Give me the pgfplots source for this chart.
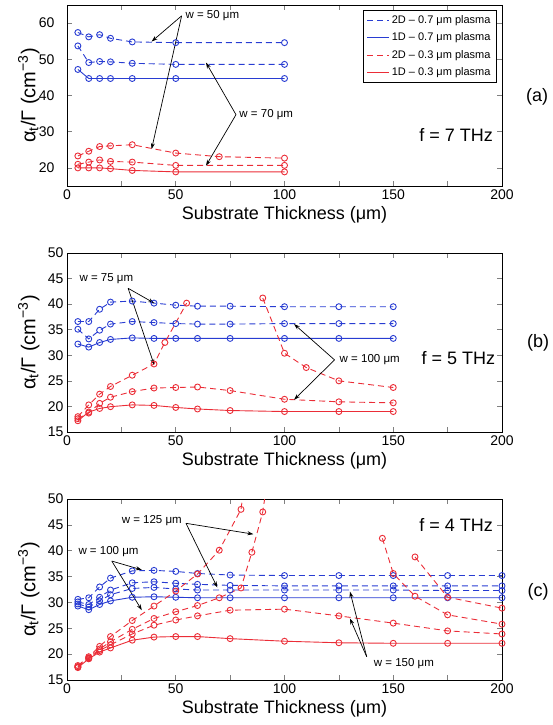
\documentclass[border=0pt]{standalone}
\usepackage{fontspec}
\setmainfont{Liberation Sans}
\usepackage{pgfplots}
\pgfplotsset{compat=1.18}
\usetikzlibrary{arrows.meta}

\definecolor{mblue}{RGB}{40,60,210}
\definecolor{mred}{RGB}{235,45,55}

\pgfplotsset{
  panel/.style={
    scale only axis, width=435pt,
    xmin=0, xmax=200,
    xtick={0,25,...,200}, xticklabels={0,,50,,100,,150,,200},
    tick align=inside, major tick length=5pt,
    tick style={line width=0.6pt},
    axis line style={line width=0.8pt},
    ticklabel style={font=\fontsize{14}{16}\selectfont},
    /pgf/number format/assume math mode=true,
    xlabel={Substrate Thickness (μm)},
    ylabel={α\textsubscript{t}/Γ (cm\textsuperscript{−3})},
    x label style={font=\fontsize{18}{20}\selectfont,
        at={(axis description cs:0.5,-0.16)}, anchor=center},
    y label style={font=\fontsize{20}{22}\selectfont,
        at={(axis description cs:-0.088,0.5)}, anchor=center},
    legend image code/.code={\draw[#1] (0pt,0pt) -- (22pt,0pt);},
  },
}
\tikzset{
  bl/.style={draw=mblue, mark options={draw=mblue, solid}},
  rd/.style={draw=mred, mark options={draw=mred, solid}},
  d2/.style={dash pattern=on 6pt off 4pt, line width=0.9pt, mark=o, mark size=3pt},
  d1/.style={solid, line width=0.9pt, mark=o, mark size=3pt},
  note/.style={font=\fontsize{11.5}{13}\selectfont, anchor=west, inner sep=0pt},
  big/.style={font=\fontsize{18}{20}\selectfont, anchor=east, inner sep=0pt},
  arr/.style={-{Stealth[length=6pt,width=4pt]}, line width=0.7pt},
}

\begin{document}
\begin{tikzpicture}
\useasboundingbox (0,0) rectangle (553pt,-725pt);

% ---------- (a) f = 7 THz
\begin{axis}[panel, at={(67pt,-5pt)}, anchor=north west, height=181pt,
    ymin=15, ymax=65, ytick={20,30,...,60}, yticklabel style={xshift=-9pt},
    legend style={at={(0.988,0.972)}, anchor=north east,
        line width=0.6pt, font=\fontsize{11}{13}\selectfont,
        cells={anchor=west}, inner xsep=4pt, inner ysep=3pt, row sep=4pt}]
\addlegendimage{bl,d2}\addlegendentry{2D – 0.7 μm plasma}
\addlegendimage{bl,d1}\addlegendentry{1D – 0.7 μm plasma}
\addlegendimage{rd,d2}\addlegendentry{2D – 0.3 μm plasma}
\addlegendimage{rd,d1}\addlegendentry{1D – 0.3 μm plasma}
\addplot[bl,d2,forget plot] coordinates {(5,57.4)(10,56.2)(15,56.8)(20,55.8)(30,54.8)(50,54.6)(100,54.6)};
\addplot[bl,d2,forget plot] coordinates {(5,53.7)(10,49.1)(15,49.4)(20,49.3)(30,48.9)(50,48.6)(100,48.6)};
\addplot[bl,d1,forget plot] coordinates {(5,47.2)(10,44.7)(15,44.7)(20,44.7)(30,44.7)(50,44.7)(100,44.7)};
\addplot[rd,d2,forget plot] coordinates {(5,23.3)(10,24.6)(15,25.9)(20,26.1)(30,26.4)(50,24.1)(70,23.1)(100,22.7)};
\addplot[rd,d2,forget plot] coordinates {(5,21.0)(10,21.6)(15,22.2)(20,21.8)(30,21.6)(50,20.7)(100,20.7)};
\addplot[rd,d1,forget plot] coordinates {(5,20.0)(10,20.0)(15,20.0)(20,19.8)(30,19.3)(50,18.9)(100,18.9)};
\node[note] at (axis cs:54.4,62.1) {w = 50 μm};
\draw[arr] (axis cs:52.7,62.0) -- (axis cs:38.9,54.9);
\draw[arr] (axis cs:52.7,62.0) -- (axis cs:38.9,25.2);
\node[note] at (axis cs:79.2,34.7) {w = 70 μm};
\draw[arr] (axis cs:77.7,34.7) -- (axis cs:63.9,49.1);
\draw[arr] (axis cs:77.7,34.7) -- (axis cs:63.9,20.6);
\node[big] at (axis cs:195.9,29.2) {f = 7 THz};
\end{axis}
\node[font=\fontsize{18}{20}\selectfont] at (537pt,-97pt) {(a)};

% ---------- (b) f = 5 THz
\begin{axis}[panel, at={(67pt,-253pt)}, anchor=north west, height=179pt,
    ymin=15, ymax=50, ytick={15,20,...,50}]
\addplot[bl,d2] coordinates {(5,36.6)(10,36.6)(15,39.0)(20,40.4)(30,40.6)(40,40.2)(50,39.8)(60,39.6)(75,39.6)(100,39.5)(125,39.5)(150,39.5)};
\addplot[bl,d2] coordinates {(5,35.1)(10,33.2)(15,34.9)(20,36.1)(30,36.6)(40,36.4)(50,36.2)(60,36.1)(75,36.1)(100,36.2)(125,36.2)(150,36.2)};
\addplot[bl,d1] coordinates {(5,32.2)(10,31.6)(15,32.5)(20,33.1)(30,33.4)(40,33.3)(50,33.3)(60,33.3)(75,33.3)(100,33.3)(125,33.3)(150,33.3)};
\addplot[rd,d2] coordinates {(5,18.0)(10,20.3)(15,22.4)(20,23.9)(30,26.1)(40,28.3)(45,32.5)(55,40.2)};
\addplot[rd,d2] coordinates {(90,41.2)(100,30.4)(110,27.6)(125,25.0)(150,23.7)};
\addplot[rd,d2] coordinates {(5,17.6)(10,18.7)(15,20.6)(20,21.8)(30,22.9)(40,23.6)(50,23.7)(60,23.8)(75,23.1)(100,21.4)(125,20.9)(150,20.7)};
\addplot[rd,d1] coordinates {(5,17.2)(10,18.9)(15,19.6)(20,19.95)(30,20.3)(40,20.2)(50,19.8)(60,19.5)(75,19.2)(100,19.0)(125,19.0)(150,19.0)};
\node[note] at (axis cs:5.7,44.9) {w = 75 μm};
\draw[arr] (axis cs:28.1,43.1) -- (axis cs:40.1,40.2);
\draw[arr] (axis cs:28.1,43.1) -- (axis cs:40.1,28.1);
\node[note] at (axis cs:125.3,29.1) {w = 100 μm};
\draw[arr] (axis cs:123,29.1) -- (axis cs:104.4,36.1);
\draw[arr] (axis cs:123,29.1) -- (axis cs:104.4,21.3);
\node[big] at (axis cs:196.9,29.4) {f = 5 THz};
\end{axis}
\node[font=\fontsize{18}{20}\selectfont] at (538pt,-343pt) {(b)};

% ---------- (c) f = 4 THz
\begin{axis}[panel, at={(67pt,-499pt)}, anchor=north west, height=181pt,
    ymin=15, ymax=50, ytick={15,20,...,50}]
\addplot[bl,d2] coordinates {(5,30.6)(10,30.9)(15,33.0)(20,34.7)(30,36.1)(40,36.2)(50,36.0)(60,35.6)(75,35.3)(100,35.2)(125,35.2)(150,35.2)(175,35.2)(200,35.2)};
\addplot[bl,d2] coordinates {(5,30.1)(10,29.6)(15,31.0)(20,32.4)(30,33.8)(40,34.0)(50,33.7)(60,33.5)(75,33.3)(100,33.2)(125,33.2)(150,33.2)(175,33.2)(200,33.2)};
\addplot[bl,d2] coordinates {(5,29.7)(10,29.1)(15,30.3)(20,31.5)(30,32.7)(40,32.9)(50,32.6)(60,32.4)(75,32.4)(100,32.4)(125,32.4)(150,32.4)(175,32.3)(200,32.3)};
\addplot[bl,d1] coordinates {(5,29.3)(10,28.6)(15,29.6)(20,30.3)(30,31.0)(40,31.1)(50,31.0)(60,30.9)(75,30.9)(100,30.9)(125,30.9)(150,30.9)(175,30.9)(200,30.9)};
\addplot[rd,d2] coordinates {(5,17.8)(10,19.5)(15,21.5)(20,23.4)(30,26.5)(40,29.3)(50,32.2)(60,35.5)(70,40.1)(80,48.0)(85,64)};
\addplot[rd,d2] coordinates {(145,42.4)(150,35.6)(160,31.2)(175,27.6)(200,25.8)};
\addplot[rd,d2] coordinates {(5,17.6)(10,19.3)(15,21.0)(20,22.4)(30,24.8)(40,26.9)(50,28.2)(60,29.4)(70,30.9)(80,32.8)(85,39.7)(90,47.5)(95,62)};
\addplot[rd,d2] coordinates {(160,38.8)(175,31.0)(200,28.9)};
\addplot[rd,d2] coordinates {(5,17.5)(10,19.2)(15,20.7)(20,21.8)(30,23.9)(40,25.6)(50,26.6)(60,27.4)(75,28.5)(100,28.7)(125,27.4)(150,26.0)(175,24.5)(200,23.9)};
\addplot[rd,d1] coordinates {(5,17.4)(10,19.1)(15,20.4)(20,21.2)(30,22.7)(40,23.3)(50,23.4)(60,23.4)(75,23.0)(100,22.5)(125,22.2)(150,22.1)(175,22.1)(200,22.1)};
\node[note] at (axis cs:25.1,45.9) {w = 125 μm};
\draw[arr] (axis cs:54.7,45.3) -- (axis cs:85.7,43.2);
\draw[arr] (axis cs:54.7,45.3) -- (axis cs:69.1,32.9);
\node[note] at (axis cs:5.2,39.8) {w = 100 μm};
\draw[arr] (axis cs:20.6,38.0) -- (axis cs:34.4,36.3);
\draw[arr] (axis cs:20.6,38.0) -- (axis cs:34.4,28.5);
\node[note] at (axis cs:141,18.1) {w = 150 μm};
\draw[arr] (axis cs:137.8,19.5) -- (axis cs:130.1,32.1);
\draw[arr] (axis cs:137.8,19.5) -- (axis cs:130.1,26.9);
\node[big] at (axis cs:195.9,45) {f = 4 THz};
\end{axis}
\node[font=\fontsize{18}{20}\selectfont] at (538pt,-592pt) {(c)};
\end{tikzpicture}
\end{document}
